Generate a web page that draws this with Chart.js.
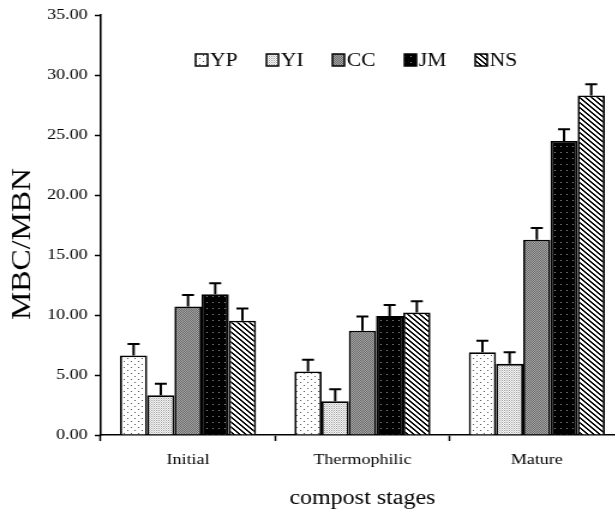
<!DOCTYPE html>
<html>
<head>
  <title>MBC/MBN by compost stage</title>
  <meta charset="UTF-8">
  <script src="https://cdn.jsdelivr.net/npm/chart.js"></script>
  <style>
    body { margin: 0; overflow: hidden; background: #fff; }
    #mbcChart { display: block; }
  </style>
</head>
<body>
  <!-- the plot is laid out narrow and widened horizontally by the inline size -->
  <canvas id="mbcChart" width="520" height="514" style="width: 624px; height: 514px;"></canvas>

  <script>
    // Data
    const stages = ['Initial', 'Thermophilic', 'Mature'];
    const treatments = ['YP', 'YI', 'CC', 'JM', 'NS'];

    const ypValues = [6.62, 5.30, 6.90];
    const yiValues = [3.31, 2.81, 5.93];
    const ccValues = [10.70, 8.69, 16.28];
    const jmValues = [11.73, 9.91, 24.50];
    const nsValues = [9.52, 10.21, 28.29];

    const ypErr = [0.97, 0.97, 0.96];
    const yiErr = [0.97, 1.00, 0.97];
    const ccErr = [0.97, 1.19, 0.97];
    const jmErr = [0.91, 0.93, 0.97];
    const nsErr = [1.02, 0.94, 0.93];

    const yTicks = [0, 5, 10, 15, 20, 25, 30, 35];

    const serif = '"Liberation Serif", "Times New Roman", serif';

    // Small fill patterns for the bars
    function makePattern(w, h, paint) {
      const c = document.createElement('canvas');
      c.width = w; c.height = h;
      const g = c.getContext('2d');
      paint(g, w, h);
      return document.createElement('canvas').getContext('2d').createPattern(c, 'repeat');
    }

    const fills = [
      // sparse dots on white
      makePattern(6, 6, (g) => {
        g.fillStyle = '#fff'; g.fillRect(0, 0, 6, 6);
        g.fillStyle = '#555'; g.fillRect(1, 1, 1, 1); g.fillRect(4, 4, 1, 1);
      }),
      // fine light stipple
      makePattern(2, 2, (g) => {
        g.fillStyle = '#fff'; g.fillRect(0, 0, 2, 2);
        g.fillStyle = '#999'; g.fillRect(0, 0, 1, 1);
        g.fillStyle = '#ccc'; g.fillRect(1, 1, 1, 1);
      }),
      // medium grey checker
      makePattern(2, 2, (g) => {
        g.fillStyle = '#aaa'; g.fillRect(0, 0, 2, 2);
        g.fillStyle = '#666'; g.fillRect(0, 0, 1, 1); g.fillRect(1, 1, 1, 1);
      }),
      // black with grey dots
      makePattern(5, 6, (g) => {
        g.fillStyle = '#000'; g.fillRect(0, 0, 5, 6);
        g.fillStyle = '#999'; g.fillRect(2, 2, 1, 1);
      }),
      // diagonal hatch
      makePattern(5, 5, (g) => {
        g.fillStyle = '#fff'; g.fillRect(0, 0, 5, 5);
        g.fillStyle = '#000';
        for (let y = 0; y < 5; y++) {
          for (let x = 0; x < 5; x++) {
            if (((x - y) % 5 + 5) % 5 < 2) g.fillRect(x, y, 1, 1);
          }
        }
      })
    ];

    const seriesValues = [ypValues, yiValues, ccValues, jmValues, nsValues];
    const seriesErr = [ypErr, yiErr, ccErr, jmErr, nsErr];

    const datasets = treatments.map((name, i) => ({
      label: name,
      data: seriesValues[i],
      errors: seriesErr[i],
      backgroundColor: fills[i],
      borderColor: '#000',
      borderWidth: 1.8,
      categoryPercentage: 0.78,
      barPercentage: 1.0
    }));

    // Upward error bars with a cap
    const errorBars = {
      id: 'errorBars',
      afterDatasetsDraw(chart) {
        const ctx = chart.ctx;
        const yScale = chart.scales.y;
        ctx.save();
        ctx.strokeStyle = '#000';
        ctx.lineWidth = 2;
        chart.data.datasets.forEach((ds, di) => {
          const meta = chart.getDatasetMeta(di);
          meta.data.forEach((bar, i) => {
            const top = yScale.getPixelForValue(ds.data[i] + ds.errors[i]);
            ctx.beginPath();
            ctx.moveTo(bar.x, bar.y);
            ctx.lineTo(bar.x, top);
            ctx.moveTo(bar.x - 5, top);
            ctx.lineTo(bar.x + 5, top);
            ctx.stroke();
          });
        });
        ctx.restore();
      }
    };

    // Legend row inside the plot and the rotated y title
    const decorations = {
      id: 'decorations',
      afterDraw(chart) {
        const ctx = chart.ctx;
        const area = chart.chartArea;
        ctx.save();

        ctx.font = '18px ' + serif;
        ctx.textBaseline = 'alphabetic';
        let x = area.left + 79;
        const boxTop = 54;
        chart.data.datasets.forEach((ds) => {
          ctx.fillStyle = ds.backgroundColor;
          ctx.fillRect(x, boxTop, 10, 12);
          ctx.strokeStyle = '#000';
          ctx.lineWidth = 1.5;
          ctx.strokeRect(x, boxTop, 10, 12);
          ctx.fillStyle = '#000';
          ctx.fillText(ds.label, x + 12, boxTop + 12);
          x += ctx.measureText(ds.label).width + 36;
        });

        const title = 'MBC/MBN';
        ctx.font = '23px ' + serif;
        const w = ctx.measureText(title).width;
        ctx.translate(19, 244);
        ctx.rotate(-Math.PI / 2);
        ctx.scale(152 / w, 1);
        ctx.textAlign = 'center';
        ctx.textBaseline = 'middle';
        ctx.fillStyle = '#000';
        ctx.fillText(title, 0, 0);
        ctx.restore();
      }
    };

    const ctx = document.getElementById('mbcChart').getContext('2d');
    new Chart(ctx, {
      type: 'bar',
      data: { labels: stages, datasets: datasets },
      options: {
        responsive: false,
        devicePixelRatio: 1,
        animation: false,
        layout: { padding: { top: 12, right: 0, bottom: 0, left: 0 } },
        plugins: {
          legend: { display: false },
          tooltip: { enabled: false }
        },
        scales: {
          x: {
            afterFit(scale) { scale.height = 79; },
            grid: {
              offset: true,
              drawOnChartArea: false,
              drawTicks: true,
              tickLength: 6,
              tickWidth: 1.5,
              tickColor: '#000'
            },
            border: { display: true, color: '#000', width: 1.6 },
            ticks: {
              color: '#000',
              padding: 10,
              font: { family: serif, size: 15 }
            },
            title: {
              display: true,
              text: 'compost stages',
              color: '#000',
              font: { family: serif, size: 20 },
              padding: { top: 0, bottom: 3 }
            }
          },
          y: {
            min: 0,
            max: 35,
            afterFit(scale) { scale.width = 84; },
            afterBuildTicks(scale) {
              scale.ticks = yTicks.map(v => ({ value: v }));
            },
            grid: {
              drawOnChartArea: false,
              drawTicks: true,
              tickLength: 5,
              tickWidth: 1.5,
              tickColor: '#000'
            },
            border: { display: true, color: '#000', width: 1.6 },
            ticks: {
              color: '#000',
              padding: 6,
              font: { family: serif, size: 15 },
              callback: (v) => Number(v).toFixed(2)
            }
          }
        }
      },
      plugins: [errorBars, decorations]
    });
  </script>
</body>
</html>
